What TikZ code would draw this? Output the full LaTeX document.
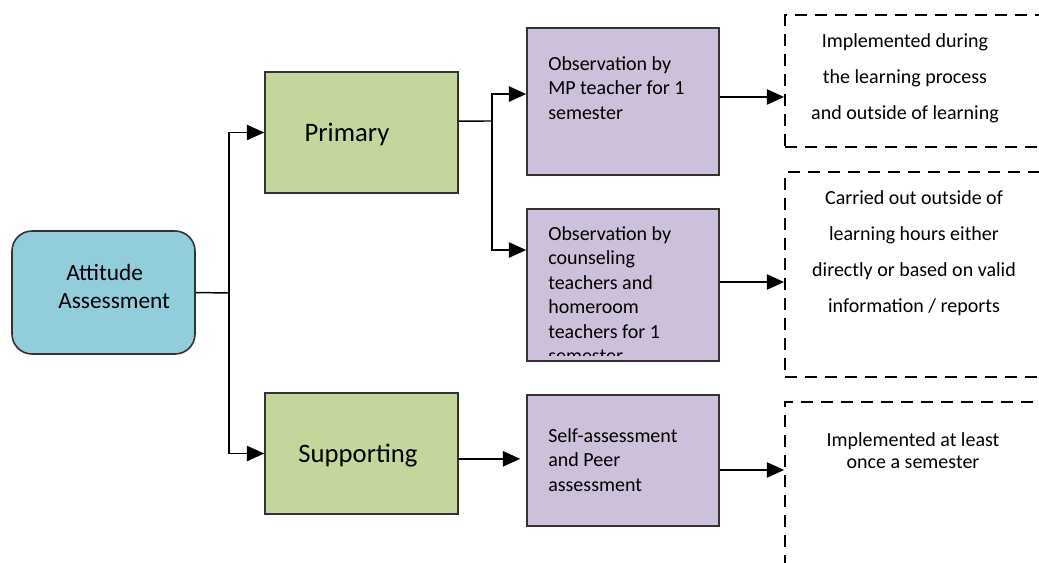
\documentclass[tikz,border=0pt]{standalone}
\usepackage{fontspec}
\setmainfont{Carlito}
\usetikzlibrary{arrows.meta}

\begin{document}
\begin{tikzpicture}[x=0.75pt,y=-0.75pt,
  box/.style={draw=black!80,line width=1.2pt,inner sep=0},
  dashbox/.style={draw=black,line width=1.6pt,dash pattern=on 9pt off 6pt,minimum width=206pt,inner sep=0},
  txt/.style={inner sep=0,font=\fontsize{15}{18.4}\selectfont},
  big/.style={inner sep=0,font=\fontsize{20}{24}\selectfont},
  arr/.style={line width=1.1pt,-{Triangle[length=13pt,width=11.5pt]}},
  ln/.style={line width=1.1pt}]
\clip (0,0) rectangle (1039,562);

% boxes
\node[box,fill={rgb,255:red,146;green,205;blue,220},rounded corners=15pt,minimum width=137.25pt,minimum height=92.25pt] (att) at (103.5,292.5) {};
\node[box,fill={rgb,255:red,195;green,214;blue,155},minimum width=144.75pt,minimum height=90.75pt] (prim) at (361.5,132.5) {};
\node[box,fill={rgb,255:red,195;green,214;blue,155},minimum width=144.75pt,minimum height=90.75pt] (supp) at (361.5,453.5) {};
\node[box,fill={rgb,255:red,204;green,192;blue,218},minimum width=144pt,minimum height=110.25pt] (obs1) at (623,101.5) {};
\node[box,fill={rgb,255:red,204;green,192;blue,218},minimum width=144pt,minimum height=114pt] (obs2) at (623,285) {};
\node[box,fill={rgb,255:red,204;green,192;blue,218},minimum width=144pt,minimum height=98.25pt] (self) at (623,460.5) {};

\node[dashbox,minimum height=99pt] (d1) at (922.5,81) {};
\node[dashbox,minimum height=153.75pt] (d2) at (922.5,274.5) {};
\node[dashbox,minimum height=133.5pt] (d3) at (922.5,491) {};

% texts
\node[txt,align=left,anchor=west,font=\fontsize{17.5}{21}\selectfont] (attt) at (58,286) {\hspace{6pt}Attitude\\Assessment};
\node[big] (primt) at (347,134) {Primary};
\node[big] (suppt) at (358,456) {Supporting};
\node[txt,align=left,anchor=north west] (obs1t) at (548,56) {Observation by\\MP teacher for 1\\semester};
\begin{scope}
\clip (527,209) rectangle (719,355);
\node[txt,align=left,anchor=north west] (obs2t) at (548,226) {Observation by\\counseling\\teachers and\\homeroom\\teachers for 1\\semester};
\end{scope}
\node[txt,align=left,anchor=north west] (selft) at (548,428) {Self-assessment\\and Peer\\assessment};
\node[txt,align=center,font=\fontsize{15}{27}\selectfont] (d1t) at (905,78) {Implemented during\\the learning process\\and outside of learning};
\node[txt,align=center,font=\fontsize{15}{27}\selectfont] (d2t) at (914,253) {Carried out outside of\\learning hours either\\directly or based on valid\\information / reports};
\node[txt,align=center,font=\fontsize{15}{16.5}\selectfont] (d3t) at (913,451) {Implemented at least\\once a semester};

% connectors
\coordinate (j1) at (229,293);
\coordinate (j2) at (492,121);
\draw[ln] (att.east) -- (j1);
\draw[arr] (j1) |- (prim.west);
\draw[arr] (j1) |- (supp.west);
\draw[ln] ([yshift=8.6pt]prim.east) -- (j2);
\draw[arr] (j2) |- ([yshift=5.6pt]obs1.west);
\draw[arr] (j2) |- ([yshift=26.25pt]obs2.west);
\draw[arr,shorten >=4.5pt] ([yshift=-4pt]supp.east) -- ([yshift=-4pt]supp.east -| self.west);
\draw[arr] ([yshift=3.4pt]obs1.east) -- ([yshift=3.4pt]obs1.east -| d1.west);
\draw[arr] ([yshift=2.25pt]obs2.east) -- ([yshift=2.25pt]obs2.east -| d2.west);
\draw[arr] ([yshift=-7.1pt]self.east) -- ([yshift=-7.1pt]self.east -| d3.west);
\end{tikzpicture}
\end{document}
